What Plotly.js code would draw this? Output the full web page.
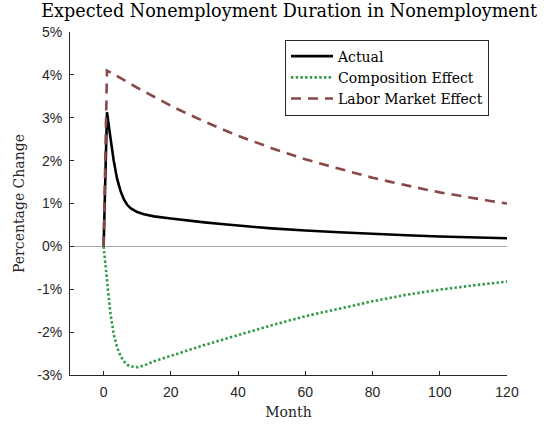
<!DOCTYPE html>
<html>
<head>
<meta charset="utf-8">
<script src="https://cdn.plot.ly/plotly-3.0.1.min.js"></script>
<style>html,body{margin:0;padding:0;background:#fff;}#chart{width:554px;height:425px;}</style>
</head>
<body>
<div id="chart"></div>
<script>
// Months and series values (percent)
var actualMonths = [0, 1, 2, 3, 4, 5, 6, 7, 8, 10, 12, 15, 20, 25, 30, 35, 40, 45, 50, 55, 60, 70, 80, 90, 100, 110, 120];
var actualValues = [0, 3.13, 2.55, 2.00, 1.58, 1.30, 1.10, 0.97, 0.89, 0.80, 0.75, 0.70, 0.65, 0.60, 0.56, 0.52, 0.48, 0.45, 0.42, 0.39, 0.37, 0.33, 0.29, 0.26, 0.23, 0.21, 0.19];

var compMonths = [0, 0.5, 1, 1.5, 2, 3, 4, 5, 6, 7, 8, 10, 12, 15, 20, 25, 30, 40, 50, 60, 70, 80, 90, 100, 110, 120];
var compValues = [0, -0.35, -0.75, -1.10, -1.55, -2.05, -2.35, -2.55, -2.68, -2.76, -2.80, -2.82, -2.78, -2.68, -2.55, -2.43, -2.30, -2.07, -1.84, -1.63, -1.45, -1.28, -1.13, -1.01, -0.91, -0.82];

var laborMonths = [0, 1, 2, 5, 10, 15, 20, 25, 30, 35, 40, 45, 50, 55, 60, 65, 70, 75, 80, 85, 90, 95, 100, 105, 110, 115, 120];
var laborValues = [0, 4.10, 4.06, 3.92, 3.70, 3.49, 3.28, 3.09, 2.91, 2.74, 2.58, 2.43, 2.29, 2.16, 2.03, 1.92, 1.81, 1.70, 1.60, 1.51, 1.42, 1.34, 1.26, 1.19, 1.12, 1.06, 1.00];

var seriesNames = ['Actual', 'Composition Effect', 'Labor Market Effect'];
var xTicks = [0, 20, 40, 60, 80, 100, 120];
var yTicks = [-3, -2, -1, 0, 1, 2, 3, 4, 5];
var yTickText = ['-3%', '-2%', '-1%', '0%', '1%', '2%', '3%', '4%', '5%'];

var serif = 'DejaVu Serif, Liberation Serif, serif';
var sans = 'Liberation Sans, Arial, sans-serif';

var traces = [
  {x: actualMonths, y: actualValues, name: seriesNames[0], mode: 'lines',
   line: {color: '#000000', width: 2.6}},
  {x: compMonths, y: compValues, name: seriesNames[1], mode: 'lines',
   line: {color: '#2f9a47', width: 2.6, dash: '2.4px,2.3px'}},
  {x: laborMonths, y: laborValues, name: seriesNames[2], mode: 'lines',
   line: {color: '#8a4848', width: 2.6, dash: '10px,7px'}}
];

var layout = {
  width: 554, height: 425,
  margin: {l: 70, r: 47, t: 32, b: 50},
  paper_bgcolor: '#ffffff', plot_bgcolor: '#ffffff',
  title: {text: 'Expected Nonemployment Duration in Nonemployment',
          font: {family: serif, size: 17.6, color: '#000'},
          x: 0.522, xanchor: 'center', y: 0.988, yanchor: 'top'},
  xaxis: {range: [-10, 120], tickvals: xTicks, ticks: 'inside', ticklen: 4,
          tickcolor: '#262626', showline: true, linecolor: '#262626', linewidth: 1,
          showgrid: false, zeroline: false, mirror: false, ticklabelstandoff: 4,
          tickfont: {family: sans, size: 14, color: '#262626'},
          title: {text: 'Month', font: {family: serif, size: 14, color: '#262626'}, standoff: 8}},
  yaxis: {range: [-3, 5], tickvals: yTicks, ticktext: yTickText, ticks: 'inside', ticklen: 4,
          tickcolor: '#262626', showline: true, linecolor: '#262626', linewidth: 1,
          showgrid: false, zeroline: true, zerolinecolor: '#a6a6a6', zerolinewidth: 1,
          ticklabelstandoff: 4,
          tickfont: {family: sans, size: 14, color: '#262626'},
          title: {text: 'Percentage Change', font: {family: serif, size: 14, color: '#262626'}, standoff: 9}},
  legend: {x: 0.492, y: 0.978, xanchor: 'left', yanchor: 'top', itemwidth: 42,
           bgcolor: '#ffffff', bordercolor: '#262626', borderwidth: 1,
           font: {family: serif, size: 14, color: '#000'}, tracegroupgap: 0},
  showlegend: true
};

Plotly.newPlot('chart', traces, layout, {displayModeBar: false, staticPlot: true});
</script>
</body>
</html>
